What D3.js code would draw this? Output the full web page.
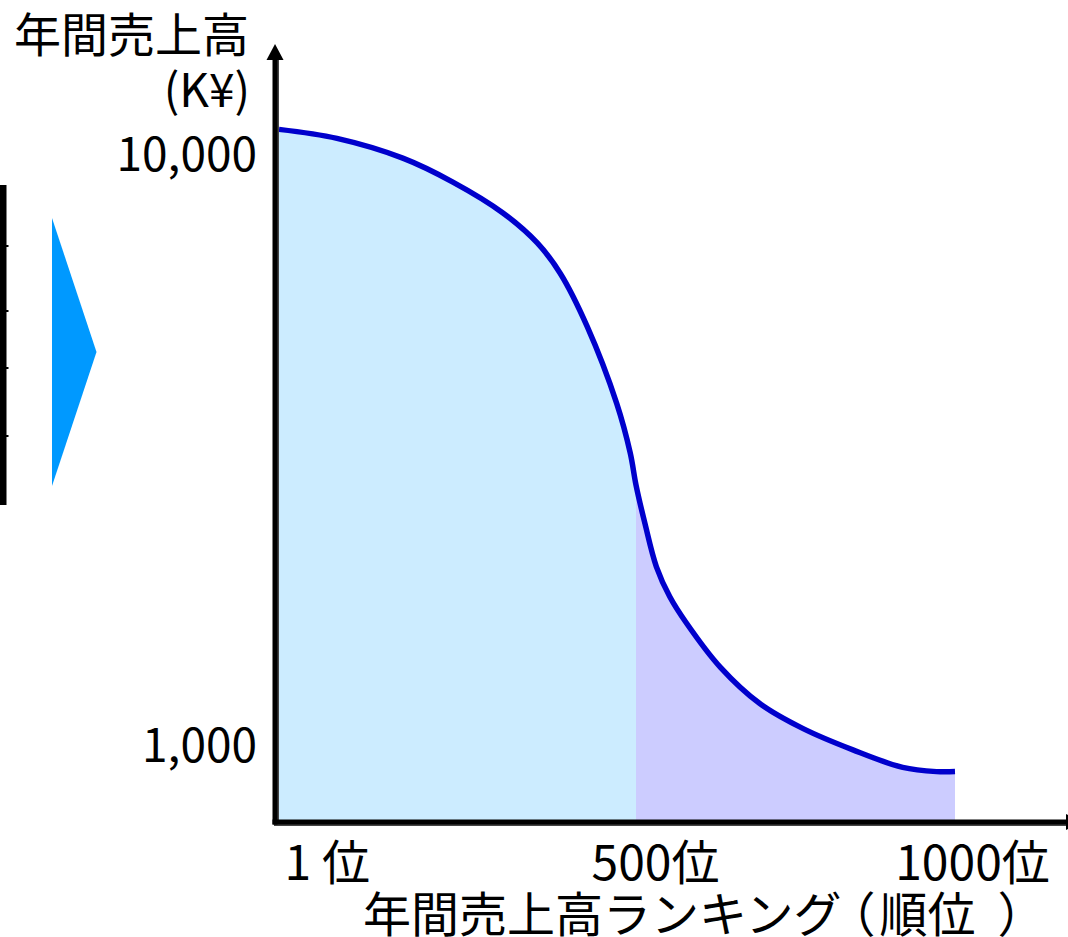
<!DOCTYPE html>
<html lang="ja">
<head>
<meta charset="utf-8">
<script src="https://cdn.jsdelivr.net/npm/d3@7"></script>
<style>
  html, body { margin: 0; padding: 0; background: #fff; }
  svg { display: block; }
  text { font-family: "Noto Sans CJK JP", "Noto Sans", sans-serif; fill: #000; }
</style>
</head>
<body>
<svg id="chart" width="1068" height="937"></svg>
<script>
// Sales ranking (1 = top seller) and annual sales in K¥
const ranks = [1, 82, 174, 244, 314, 362, 394, 432, 473, 492, 500, 514, 532, 553, 579, 632, 694, 762, 840, 918, 971, 1000];
const sales = [11050, 10670, 9880, 9000, 7980, 7100, 6310, 5120, 3800, 3130, 2765, 2380, 2010, 1789, 1615, 1360, 1180, 1070, 985, 920, 905, 905];

// Tick values and labels
const rankTicks = [1, 500, 1000];
const rankTickLabels = ["1 位", "500位", "1000位"];
const salesTicks = [1000, 10000];

// Segments of the ranking shaded under the curve
const segments = [
  { from: 1, to: 500, color: "#ccecff" },
  { from: 500, to: 1000, color: "#ccccff" }
];

const svg = d3.select("#chart");
const axisX = 275, axisY = 822;

const x = d3.scaleLinear().domain([1, 500, 1000]).range([279, 636, 955]);
const y = d3.scaleLog().domain([1000, 10000]).range([746, 155]);

const data = ranks.map((r, i) => ({ rank: r, value: sales[i] }));
const curve = d3.curveCatmullRom.alpha(0.5);

// Decorations on the left side: edge of a framed block and a pointer triangle
const frame = svg.append("g");
frame.append("rect").attr("x", 0).attr("y", 185).attr("width", 6.5).attr("height", 320).attr("fill", "#000");
[246, 311, 368, 436].forEach(ty => {
  frame.append("rect").attr("x", 0).attr("y", ty - 1).attr("width", 8.5).attr("height", 2).attr("fill", "#000");
});
svg.append("path")
  .attr("d", "M52,218 L96.5,352 L52,486 Z")
  .attr("fill", "#0099ff");

// Shaded areas under the curve, one per segment
const area = d3.area()
  .x(d => x(d.rank))
  .y0(axisY)
  .y1(d => y(d.value))
  .curve(curve);

const defs = svg.append("defs");
segments.forEach((s, i) => {
  defs.append("clipPath").attr("id", "seg" + i)
    .append("rect")
    .attr("x", x(s.from)).attr("y", 0)
    .attr("width", x(s.to) - x(s.from)).attr("height", axisY);
  svg.append("path")
    .datum(data)
    .attr("d", area)
    .attr("fill", s.color)
    .attr("clip-path", `url(#seg${i})`);
});

// Sales curve
const line = d3.line()
  .x(d => x(d.rank))
  .y(d => y(d.value))
  .curve(curve);

svg.append("path")
  .datum(data)
  .attr("d", line)
  .attr("fill", "none")
  .attr("stroke", "#0000cc")
  .attr("stroke-width", 5.5);

// Axis lines with arrowheads (a faint offset copy gives the slight shadow)
const axes = svg.append("g");
[[1.5, "#444"], [0, "#000"]].forEach(([off, col]) => {
  axes.append("line").attr("x1", axisX + off).attr("y1", 58).attr("x2", axisX + off).attr("y2", axisY + 2.5 + off)
    .attr("stroke", col).attr("stroke-width", 5);
  axes.append("line").attr("x1", axisX - 2.5 + off).attr("y1", axisY + off).attr("x2", 1067).attr("y2", axisY + off)
    .attr("stroke", col).attr("stroke-width", 5);
});
axes.append("path").attr("d", `M${axisX},44 L${axisX - 8.5},60 L${axisX + 8.5},60 Z`).attr("fill", "#000");
axes.append("path").attr("d", `M1066,814 L1084,${axisY} L1066,830 Z`).attr("fill", "#000");

// Y axis tick labels
const yAxis = d3.axisLeft(y)
  .tickValues(salesTicks)
  .tickFormat(d3.format(","))
  .tickSize(0)
  .tickPadding(18);
const gy = svg.append("g").attr("transform", `translate(${axisX},0)`).call(yAxis);
gy.select(".domain").remove();
gy.selectAll("text")
  .attr("font-family", "'Noto Sans', sans-serif")
  .attr("font-size", 46)
  .attr("dy", "0.34em");

// X axis tick labels
const xAxis = d3.axisBottom(x)
  .tickValues(rankTicks)
  .tickFormat((d, i) => rankTickLabels[i])
  .tickSize(0);
const gx = svg.append("g").attr("transform", `translate(0,${axisY})`).call(xAxis);
gx.select(".domain").remove();
gx.selectAll("text")
  .attr("font-family", "'Noto Sans CJK JP', sans-serif")
  .attr("font-size", 48)
  .attr("y", 58)
  .attr("dy", 0)
  .attr("text-anchor", (d, i) => i === 0 ? "start" : "middle")
  .attr("dx", (d, i) => i === 0 ? 5 : (i === 2 ? 17 : 19));

// Axis titles
svg.append("text")
  .attr("x", 14).attr("y", 52)
  .attr("font-size", 47)
  .text("年間売上高");
svg.append("text")
  .attr("x", 250).attr("y", 107)
  .attr("text-anchor", "end")
  .attr("font-family", "'Noto Sans', sans-serif")
  .attr("font-size", 46)
  .text("(K¥)");
const xTitle = svg.append("text")
  .attr("x", 363).attr("y", 932)
  .attr("font-size", 48);
xTitle.append("tspan").text("年間売上高ランキング");
xTitle.append("tspan").attr("dx", -14).text("（");
xTitle.append("tspan").attr("dx", 4).text("順位");
xTitle.append("tspan").attr("dx", 22).text("）");
</script>
</body>
</html>
